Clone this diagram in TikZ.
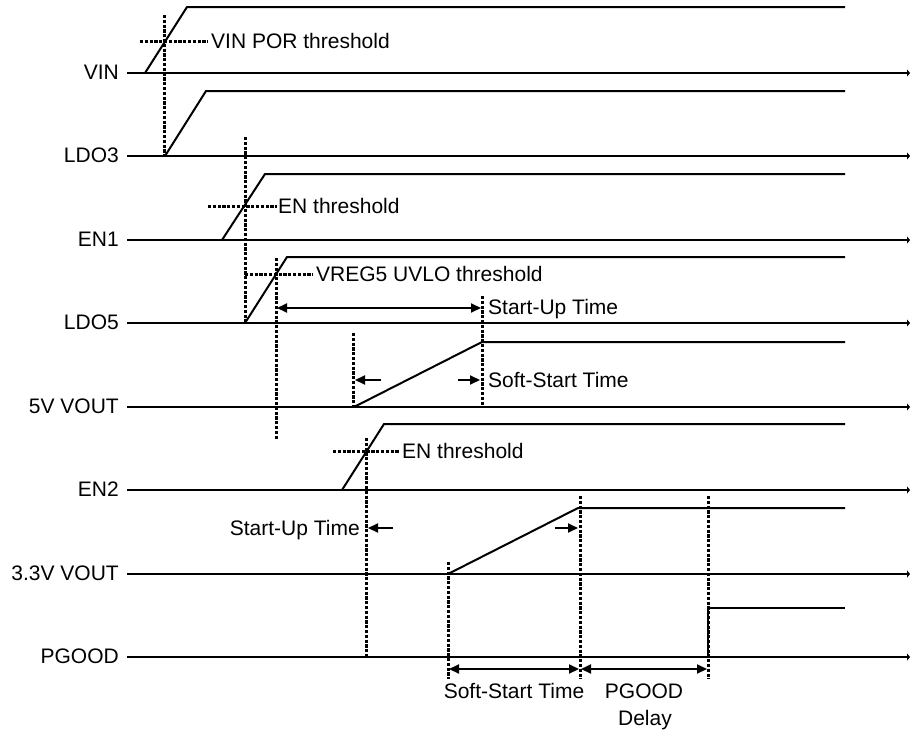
\documentclass[tikz,border=0pt]{standalone}
\usepackage{fontspec}
\setmainfont{Liberation Sans}
\usetikzlibrary{arrows.meta}
\begin{document}
\begin{tikzpicture}[x=1pt,y=-1pt,
  font=\fontsize{21}{25}\selectfont,
  sig/.style={line width=2pt, line join=miter},
  axis/.style={line width=2pt, -{Triangle[length=3pt,width=7pt]}},
  thr/.style={line width=3pt, dash pattern=on 3.2pt off 1.6pt},
  dimtip/.style={line width=2pt, -{Triangle[length=10pt,width=9pt]}},
  dimboth/.style={line width=2pt, {Triangle[length=10pt,width=9pt]}-{Triangle[length=10pt,width=9pt]}},
  lbl/.style={anchor=east, inner sep=0pt},
  txt/.style={anchor=base west, inner sep=0pt},
  txtc/.style={anchor=base, inner sep=0pt}]
\useasboundingbox (0,0) rectangle (911,731);

% signal labels
\node[lbl] (lvin)  at (119,72)  {VIN};
\node[lbl] (lldo3) at (119,155) {LDO3};
\node[lbl] (len1)  at (119,239) {EN1};
\node[lbl] (lldo5) at (119,322) {LDO5};
\node[lbl] (l5v)   at (119,406) {5V VOUT};
\node[lbl] (len2)  at (119,489) {EN2};
\node[lbl] (l33v)  at (119,573) {3.3V VOUT};
\node[lbl] (lpg)   at (119,656) {PGOOD};

% time axes
\foreach \yy in {73,156,240,323,407,490,574,657}
  \draw[axis] (127,\yy) -- (910,\yy);

% waveforms
\draw[sig] (145,73) -- (187,7) -- (845,7);          % VIN
\draw[sig] (165,156) -- (206,91) -- (845,91);       % LDO3
\draw[sig] (222,240) -- (265,174) -- (845,174);     % EN1
\draw[sig] (245,323) -- (287,257) -- (845,257);     % LDO5
\draw[sig] (354,407) -- (482,342) -- (845,342);     % 5V VOUT
\draw[sig] (342,490) -- (384,424) -- (845,424);     % EN2
\draw[sig] (448,574) -- (578,508) -- (845,508);     % 3.3V VOUT
\draw[sig] (708,657) -- (708,608) -- (845,608);     % PGOOD

% threshold markers (horizontal)
\draw[thr] (140,41) -- (208,41);
\draw[thr] (208,206) -- (277,206);
\draw[thr] (245,274) -- (313,274);
\draw[thr] (333,451) -- (400,451);

% vertical dotted markers
\draw[thr] (164,15) -- (164,156);
\draw[thr] (245,137) -- (245,323);
\draw[thr] (276,258) -- (276,440);
\draw[thr] (482,296) -- (482,408);
\draw[thr] (353,333) -- (353,407);
\draw[thr] (366,438) -- (366,657);
\draw[thr] (448,562) -- (448,679);
\draw[thr] (580,496) -- (580,679);
\draw[thr] (708,496) -- (708,679);

% threshold texts
\node[txt] (tvin) at (211,48)  {VIN POR threshold};
\node[txt] (ten1) at (278,213) {EN threshold};
\node[txt] (tuv)  at (316,281) {VREG5 UVLO threshold};
\node[txt] (ten2) at (402,458) {EN threshold};

% LDO5 -> 5V start-up
\coordinate (su1a) at (277,308);
\coordinate (su1b) at (481,308);
\draw[dimboth] (su1a) -- (su1b);
\node[txt] (tsu1) at (488,314) {Start-Up Time};

% 5V soft start
\coordinate (ss1a) at (381,380);
\coordinate (ss1b) at (355,380);
\coordinate (ss1c) at (458,380);
\coordinate (ss1d) at (480,380);
\draw[dimtip] (ss1a) -- (ss1b);
\draw[dimtip] (ss1c) -- (ss1d);
\node[txt] (tss1) at (488,387) {Soft-Start Time};

% EN2 start-up
\coordinate (su2a) at (393,528);
\coordinate (su2b) at (368,528);
\coordinate (su2c) at (555,528);
\coordinate (su2d) at (578,528);
\draw[dimtip] (su2a) -- (su2b);
\draw[dimtip] (su2c) -- (su2d);
\node[anchor=base east, inner sep=0pt] (tsu2) at (360,535) {Start-Up Time};

% bottom dimensions
\coordinate (b1) at (449,669);
\coordinate (b2) at (579,669);
\coordinate (b3) at (581,669);
\coordinate (b4) at (707,669);
\draw[dimboth] (b1) -- (b2);
\draw[dimboth] (b3) -- (b4);
\node[txtc] (tss2) at (514,698) {Soft-Start Time};
\node[txtc] (tpg1) at (644,698) {PGOOD};
\node[txtc] (tpg2) at (645,725) {Delay};
\end{tikzpicture}
\end{document}
